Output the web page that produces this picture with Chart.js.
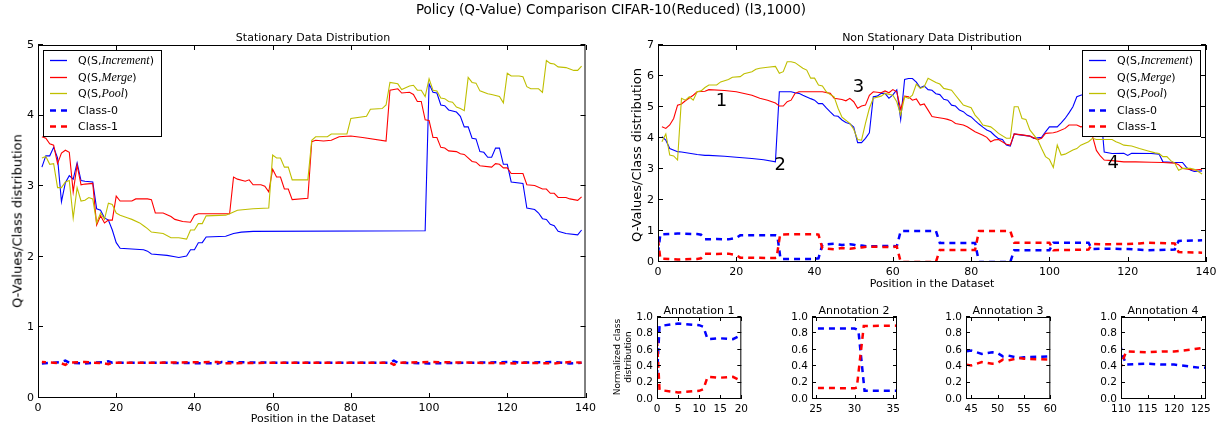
<!DOCTYPE html>
<html>
<head>
<meta charset="utf-8">
<script src="https://cdn.jsdelivr.net/npm/chart.js@4.4.0/dist/chart.umd.min.js"></script>
<style>
  body { margin: 0; background: #fff; }
  #wrap { position: relative; width: 1222px; height: 432px; overflow: hidden; font-family: 'DejaVu Sans', sans-serif; color: #000; background: #fff; }
  canvas { position: absolute; }
  .lbl { position: absolute; white-space: nowrap; transform: translate(-50%, -50%); line-height: 1; }
  .rot { transform: translate(-50%, -50%) rotate(-90deg); }
</style>
</head>
<body>
<div id="wrap">
  <canvas id="statChart"></canvas>
  <canvas id="nonStatChart"></canvas>
  <canvas id="ann1"></canvas>
  <canvas id="ann2"></canvas>
  <canvas id="ann3"></canvas>
  <canvas id="ann4"></canvas>

  <div class="lbl" style="left:611px;top:10px;font-size:13.5px">Policy (Q-Value) Comparison CIFAR-10(Reduced) (l3,1000)</div>
  <div class="lbl" style="left:313px;top:37px;font-size:11px">Stationary Data Distribution</div>
  <div class="lbl" style="left:932px;top:37px;font-size:11px">Non Stationary Data Distribution</div>
  <div class="lbl" style="left:313px;top:418px;font-size:11px">Position in the Dataset</div>
  <div class="lbl" style="left:932px;top:283px;font-size:11px">Position in the Dataset</div>
  <div class="lbl rot" style="left:17px;top:221px;font-size:13px">Q-Values/Class distribution</div>
  <div class="lbl rot" style="left:636px;top:155px;font-size:13px">Q-Values/Class distribution</div>
  <div class="lbl" style="left:699px;top:310px;font-size:11px">Annotation 1</div>
  <div class="lbl" style="left:854px;top:310px;font-size:11px">Annotation 2</div>
  <div class="lbl" style="left:1008px;top:310px;font-size:11px">Annotation 3</div>
  <div class="lbl" style="left:1163px;top:310px;font-size:11px">Annotation 4</div>
  <div class="lbl rot" style="left:623px;top:357px;font-size:9px;line-height:11px;text-align:center">Normalized class<br>distribution</div>
</div>

<script>
// ---- tick labels ----
const xTicksMain = [0, 20, 40, 60, 80, 100, 120, 140];
const yTicksStat = [0, 1, 2, 3, 4, 5];
const yTicksNonStat = [0, 1, 2, 3, 4, 5, 6, 7];
const yTicksAnn = [0, 0.2, 0.4, 0.6, 0.8, 1.0];
const xTicksAnn1 = [0, 5, 10, 15, 20];
const xTicksAnn2 = [25, 30, 35];
const xTicksAnn3 = [45, 50, 55, 60];
const xTicksAnn4 = [110, 115, 120, 125];

// ---- stationary data distribution: [position, value] ----
const statIncrement = [[1,3.27],[2,3.43],[3,3.43],[4,3.55],[5,3.40],[6,2.78],[7,3.05],[8,3.15],[9,3.10],[10,3.33],[11,3.08],[12,3.07],[14,3.06],[15,2.68],[16,2.66],[17,2.55],[18,2.52],[19,2.38],[20,2.20],[21,2.12],[27,2.10],[28,2.08],[29,2.04],[33,2.02],[35,2.00],[36,1.99],[37,2.00],[38,2.01],[39,2.10],[40,2.10],[41,2.20],[42,2.20],[43,2.28],[48,2.29],[50,2.33],[52,2.35],[55,2.36],[99,2.37],[100,4.45],[101,4.33],[102,4.32],[103,4.15],[104,4.14],[105,4.08],[107,4.05],[108,3.99],[109,3.84],[110,3.84],[111,3.68],[112,3.67],[113,3.49],[114,3.48],[115,3.41],[116,3.41],[117,3.54],[118,3.54],[119,3.31],[120,3.31],[121,3.06],[124,3.04],[125,2.69],[127,2.67],[128,2.62],[129,2.54],[130,2.53],[131,2.46],[132,2.44],[133,2.36],[135,2.33],[138,2.31],[139,2.38]];
const statMerge = [[1,3.70],[2,3.68],[3,3.60],[4,3.58],[5,3.32],[6,3.47],[7,3.51],[8,3.48],[9,2.92],[10,3.30],[11,3.02],[12,3.03],[14,3.04],[15,2.45],[16,2.58],[17,2.48],[18,2.52],[19,2.52],[20,2.86],[21,2.79],[24,2.79],[25,2.82],[28,2.82],[29,2.81],[30,2.62],[32,2.62],[34,2.57],[35,2.53],[37,2.50],[39,2.49],[40,2.59],[41,2.61],[49,2.61],[50,3.13],[51,3.10],[53,3.07],[54,3.09],[55,3.02],[57,3.02],[58,3.00],[59,2.92],[60,3.24],[61,3.13],[62,3.13],[63,2.96],[64,2.96],[65,2.81],[69,2.83],[70,3.63],[71,3.65],[73,3.64],[75,3.65],[77,3.70],[80,3.71],[83,3.69],[89,3.64],[90,4.36],[92,4.38],[93,4.32],[95,4.33],[96,4.30],[97,4.20],[98,4.20],[99,3.94],[100,3.93],[101,3.69],[102,3.69],[103,3.55],[104,3.54],[105,3.50],[107,3.49],[108,3.46],[109,3.45],[111,3.35],[112,3.34],[113,3.29],[116,3.27],[117,3.32],[118,3.31],[119,3.26],[120,3.26],[121,3.18],[124,3.18],[125,3.02],[127,3.01],[129,2.96],[130,2.96],[131,2.90],[132,2.90],[133,2.84],[135,2.84],[136,2.82],[138,2.80],[139,2.85]];
const statPool = [[1,3.40],[2,3.42],[3,3.31],[4,3.32],[5,2.98],[6,2.98],[7,3.06],[8,3.08],[9,2.55],[10,2.98],[11,2.79],[12,2.80],[13,2.84],[14,2.82],[15,2.48],[16,2.62],[17,2.53],[18,2.76],[19,2.74],[20,2.62],[21,2.59],[23,2.55],[24,2.53],[26,2.48],[27,2.44],[28,2.40],[29,2.35],[32,2.33],[34,2.27],[36,2.27],[38,2.25],[39,2.38],[40,2.38],[41,2.47],[42,2.47],[43,2.58],[48,2.59],[49,2.61],[51,2.66],[55,2.68],[59,2.69],[60,3.44],[61,3.40],[62,3.40],[63,3.27],[64,3.27],[65,3.09],[69,3.09],[70,3.65],[71,3.70],[74,3.70],[75,3.74],[79,3.74],[80,3.96],[84,3.99],[85,4.09],[88,4.10],[89,4.15],[90,4.47],[92,4.45],[93,4.37],[95,4.42],[96,4.43],[97,4.36],[98,4.36],[99,4.27],[100,4.52],[101,4.36],[102,4.35],[103,4.25],[104,4.24],[105,4.20],[106,4.19],[107,4.12],[108,4.10],[109,4.07],[110,4.54],[111,4.47],[112,4.46],[113,4.35],[115,4.31],[116,4.30],[118,4.27],[119,4.18],[120,4.60],[121,4.56],[123,4.56],[124,4.55],[125,4.41],[126,4.38],[128,4.38],[129,4.33],[130,4.78],[131,4.74],[132,4.73],[133,4.69],[135,4.68],[136,4.66],[137,4.64],[138,4.64],[139,4.70]];
const statClass0 = [[1,0.49],[4,0.50],[6,0.51],[7,0.53],[8,0.50],[12,0.49],[17,0.51],[18,0.52],[19,0.50],[30,0.50],[46,0.49],[47,0.51],[60,0.50],[90,0.50],[91,0.53],[92,0.50],[100,0.49],[122,0.51],[123,0.50],[132,0.51],[136,0.49],[139,0.50]];
const statClass1 = [[1,0.51],[4,0.50],[6,0.49],[7,0.47],[8,0.50],[12,0.51],[17,0.49],[18,0.48],[19,0.50],[30,0.50],[46,0.51],[47,0.49],[60,0.50],[90,0.50],[91,0.47],[92,0.50],[100,0.51],[122,0.49],[123,0.50],[132,0.49],[136,0.51],[139,0.50]];

// ---- non stationary data distribution ----
const nsIncrement = [[1,4.04],[2,3.93],[3,3.66],[5,3.56],[6,3.55],[8,3.51],[10,3.47],[12,3.44],[13,3.44],[17,3.41],[20,3.38],[24,3.34],[27,3.30],[30,3.23],[31,5.49],[34,5.49],[35,5.46],[36,5.44],[37,5.38],[39,5.27],[40,5.22],[41,5.11],[42,5.11],[43,4.97],[44,4.84],[45,4.72],[46,4.70],[47,4.58],[48,4.50],[49,4.46],[50,4.35],[51,3.85],[52,3.85],[53,3.99],[54,4.17],[55,5.33],[56,5.35],[57,5.44],[58,5.44],[59,5.28],[60,5.39],[61,5.55],[62,4.60],[63,5.89],[64,5.92],[65,5.92],[66,5.80],[67,5.62],[68,5.68],[69,5.56],[70,5.54],[71,5.43],[72,5.40],[73,5.25],[74,5.22],[75,5.06],[76,5.03],[77,4.90],[78,4.85],[79,4.74],[80,4.68],[81,4.56],[82,4.45],[83,4.35],[84,4.26],[85,4.20],[86,4.08],[87,3.98],[88,3.95],[89,3.77],[90,3.74],[91,4.13],[92,4.11],[95,4.06],[96,3.99],[98,4.02],[99,4.20],[100,4.36],[102,4.36],[103,4.49],[104,4.63],[105,4.81],[106,5.01],[107,5.33],[108,5.38],[110,5.45],[112,5.45],[113,5.00],[114,3.55],[116,3.50],[119,3.51],[120,3.44],[121,3.51],[126,3.50],[128,3.48],[129,3.23],[132,3.21],[134,3.21],[135,3.05],[136,2.97],[137,2.92],[139,2.94]];
const nsMerge = [[1,4.36],[2,4.31],[3,4.42],[4,4.63],[5,5.06],[6,5.10],[7,5.20],[9,5.38],[10,5.49],[12,5.51],[13,5.56],[17,5.53],[20,5.49],[24,5.38],[26,5.28],[28,5.22],[30,5.13],[31,5.03],[32,5.03],[33,5.17],[34,5.22],[35,5.44],[36,5.49],[42,5.49],[44,5.44],[45,5.28],[47,5.24],[48,5.20],[49,5.28],[50,5.17],[51,4.96],[52,5.03],[53,5.06],[54,5.38],[55,5.49],[57,5.46],[58,5.52],[59,5.46],[60,5.56],[61,5.49],[62,4.92],[63,5.35],[64,5.33],[65,5.22],[66,5.26],[67,5.06],[68,5.10],[69,4.90],[70,4.69],[71,4.67],[73,4.63],[74,4.60],[75,4.56],[76,4.47],[78,4.42],[79,4.36],[80,4.28],[81,4.20],[83,4.09],[84,4.02],[85,3.88],[86,3.94],[87,3.95],[89,3.80],[90,3.77],[91,4.13],[93,4.10],[95,4.06],[97,3.95],[98,3.99],[99,4.15],[101,4.17],[102,4.20],[104,4.31],[105,4.42],[107,4.42],[108,4.36],[110,4.40],[111,4.06],[112,3.60],[113,3.42],[114,3.29],[116,3.27],[119,3.23],[122,3.23],[126,3.22],[129,3.21],[132,3.19],[133,3.14],[134,3.02],[137,2.97],[139,2.99]];
const nsPool = [[1,3.88],[2,4.13],[3,3.45],[4,3.42],[5,3.29],[6,5.28],[7,5.22],[8,5.33],[9,5.22],[10,5.49],[11,5.52],[12,5.63],[13,5.71],[15,5.71],[16,5.81],[18,5.89],[19,5.96],[21,5.98],[22,6.07],[24,6.14],[25,6.22],[26,6.25],[28,6.28],[30,6.31],[31,6.09],[32,6.14],[33,6.46],[34,6.46],[35,6.43],[37,6.25],[38,6.19],[39,5.93],[40,5.93],[41,5.71],[42,5.68],[43,5.49],[44,5.40],[45,5.33],[46,4.96],[47,4.67],[49,4.47],[50,4.28],[51,3.95],[52,3.93],[53,4.47],[54,4.96],[55,5.28],[57,5.35],[58,5.44],[60,5.38],[61,5.17],[62,4.74],[63,5.33],[64,5.28],[65,5.38],[66,5.74],[67,5.60],[68,5.65],[69,5.93],[71,5.79],[72,5.74],[73,5.60],[75,5.54],[76,5.38],[77,5.22],[78,5.06],[80,4.98],[81,4.74],[82,4.60],[83,4.42],[85,4.36],[86,4.26],[87,4.15],[89,3.99],[90,3.99],[91,5.01],[92,5.01],[93,4.63],[94,4.60],[95,4.26],[97,3.94],[98,3.66],[99,3.40],[100,3.31],[101,3.05],[102,3.77],[103,3.45],[104,3.48],[106,3.61],[107,3.66],[108,3.77],[110,3.88],[111,3.99],[112,3.95],[116,3.95],[117,3.88],[118,3.83],[119,3.77],[121,3.74],[123,3.66],[125,3.59],[127,3.52],[128,3.50],[129,3.40],[130,3.40],[131,3.27],[132,3.19],[133,2.96],[134,3.02],[136,3.02],[137,2.99],[138,2.92],[139,2.84]];
const nsClass0 = [[0,0.28],[0.6,0.89],[5,0.92],[10,0.90],[11,0.88],[12,0.73],[15,0.74],[18,0.73],[20,0.78],[21,0.86],[30,0.86],[30.5,0.84],[31.3,0.10],[40,0.10],[41,0.12],[42,0.56],[45,0.59],[47,0.55],[49,0.57],[50,0.56],[51,0.52],[52,0.53],[54,0.50],[55,0.51],[60,0.52],[61,0.50],[62,1.0],[71,1.0],[72,0.61],[81,0.61],[82,0.0],[90,0.0],[91,0.38],[100,0.38],[101,0.62],[110,0.62],[110.5,0.50],[111,0.42],[115,0.43],[118,0.42],[120,0.42],[125,0.38],[132,0.40],[133,0.68],[139,0.70]];
const nsClass1 = [[0,0.72],[0.6,0.11],[5,0.08],[10,0.10],[11,0.12],[12,0.27],[15,0.26],[18,0.27],[20,0.22],[21,0.14],[30,0.13],[30.3,0.14],[31.2,0.89],[40,0.90],[41,0.88],[42,0.44],[45,0.41],[47,0.45],[49,0.43],[50,0.44],[51,0.48],[52,0.47],[54,0.50],[55,0.49],[60,0.48],[61,0.50],[62,0.0],[71,0.0],[72,0.39],[81,0.39],[82,1.0],[90,1.0],[91,0.62],[100,0.62],[101,0.38],[110,0.40],[110.5,0.50],[111,0.58],[115,0.57],[118,0.58],[120,0.58],[123,0.60],[125,0.62],[132,0.60],[133,0.32],[139,0.30]];

// numbered annotations on the non stationary plot
const annotLabels = ['1', '2', '3', '4'];
const annotX = [16.2, 31.2, 51.2, 116.3];
const annotY = [5.17, 3.12, 5.65, 3.18];

const BLUE = '#0000ff', RED = '#ff0000', YELLOW = '#bfbf00';

// Q(S, <italic name>) legend text
function qParts(name) {
    return [{ text: 'Q(S,' }, { text: name, math: true }, { text: ')' }];
}

function line(points, color, dashed, parts, idx, dashOffset) {
    return {
        label: parts.map(p => p.text).join(''),
        legendParts: parts,
        data: points.map(p => ({ x: p[0], y: p[1] })),
        borderColor: color,
        borderWidth: dashed ? 2.5 : 1.1,
        borderDash: dashed ? [6, 5] : [],
        borderDashOffset: dashOffset || 0,
        pointRadius: 0,
        fill: false,
        tension: 0,
        clip: 0,
        order: -idx
    };
}

// legend box drawn like the matplotlib one
const legendBox = {
    id: 'legendBox',
    afterDatasetsDraw(chart, args, opts) {
        if (!opts.side) return;
        const ctx = chart.ctx, a = chart.chartArea;
        const w = 118, h = 86;
        const x0 = opts.side === 'left' ? Math.round(a.left) + 5 : Math.round(a.right) - 6 - w;
        const y0 = Math.round(a.top) + 5;
        ctx.save();
        ctx.fillStyle = '#fff';
        ctx.fillRect(x0, y0, w, h);
        ctx.strokeStyle = '#000';
        ctx.lineWidth = 1;
        ctx.strokeRect(x0 + 0.5, y0 + 0.5, w, h);
        chart.data.datasets.forEach((ds, i) => {
            const y = Math.round(y0 + 10 + i * 16.6);
            ctx.beginPath();
            ctx.strokeStyle = ds.borderColor;
            ctx.lineWidth = ds.borderWidth === 2.5 ? 2.5 : 1.3;
            ctx.setLineDash(ds.borderDash);
            ctx.moveTo(x0 + 7, y + 0.5);
            ctx.lineTo(x0 + 24, y + 0.5);
            ctx.stroke();
            ctx.setLineDash([]);
            let tx = x0 + 35;
            ctx.fillStyle = '#000';
            ctx.textBaseline = 'middle';
            ctx.textAlign = 'left';
            ds.legendParts.forEach(p => {
                ctx.font = p.math ? 'italic 12px "Liberation Serif"' : '11px "DejaVu Sans"';
                ctx.fillText(p.text, tx, y + 1);
                tx += ctx.measureText(p.text).width;
            });
        });
        ctx.restore();
    }
};

// big numbers placed in data coordinates
const markers = {
    id: 'markers',
    afterDatasetsDraw(chart, args, opts) {
        if (!opts.items || !opts.items.length) return;
        const ctx = chart.ctx;
        ctx.save();
        ctx.fillStyle = '#000';
        ctx.font = '18px "DejaVu Sans"';
        ctx.textAlign = 'center';
        ctx.textBaseline = 'middle';
        opts.items.forEach(m => {
            ctx.fillText(m.text, chart.scales.x.getPixelForValue(m.x), chart.scales.y.getPixelForValue(m.y));
        });
        ctx.restore();
    }
};

// axes box with inward ticks on all four sides
const frame = {
    id: 'frame',
    afterDraw(chart, args, opts) {
        const ctx = chart.ctx, a = chart.chartArea, len = opts.len || 5;
        const xs = chart.scales.x, ys = chart.scales.y;
        ctx.save();
        ctx.strokeStyle = '#000';
        ctx.lineWidth = 1;
        ctx.beginPath();
        xs.ticks.forEach(t => {
            const p = Math.round(xs.getPixelForValue(t.value)) + 0.5;
            ctx.moveTo(p, a.bottom); ctx.lineTo(p, a.bottom - len);
            ctx.moveTo(p, a.top); ctx.lineTo(p, a.top + len);
        });
        ys.ticks.forEach(t => {
            const p = Math.round(ys.getPixelForValue(t.value)) - 0.5;
            ctx.moveTo(a.left, p); ctx.lineTo(a.left + len, p);
            ctx.moveTo(a.right, p); ctx.lineTo(a.right - len, p);
        });
        ctx.stroke();
        ctx.strokeRect(a.left + 0.5, a.top + 0.5, a.right - a.left - 1, a.bottom - a.top - 1);
        ctx.restore();
    }
};

function axisOpts(min, max, ticks, size, fmt, thick, dir, pad) {
    return {
        type: 'linear',
        min: min,
        max: max,
        grid: { display: false, drawTicks: false },
        border: { display: false },
        ticks: {
            autoSkip: false,
            maxRotation: 0,
            padding: pad,
            color: '#000',
            font: { family: 'DejaVu Sans', size: size },
            callback: v => fmt(v)
        },
        afterBuildTicks: s => { s.ticks = ticks.map(v => ({ value: v })); },
        afterFit: s => { if (dir === 'x') s.height = thick; else s.width = thick; }
    };
}

function makeChart(id, box, pad, conf) {
    const cv = document.getElementById(id);
    cv.width = box.right - box.left + pad.l + pad.r;
    cv.height = box.bottom - box.top + pad.t + pad.b;
    cv.style.left = (box.left - pad.l) + 'px';
    cv.style.top = (box.top - pad.t) + 'px';
    return new Chart(cv, {
        type: 'line',
        data: { datasets: conf.datasets },
        options: {
            responsive: false,
            animation: false,
            devicePixelRatio: 1,
            layout: { padding: { top: pad.t, right: pad.r, left: 0, bottom: 0 } },
            plugins: {
                legend: { display: false },
                tooltip: { enabled: false },
                legendBox: { side: conf.legendSide },
                markers: { items: conf.markers || [] },
                frame: { len: conf.tickLen }
            },
            scales: {
                x: axisOpts(conf.xMin, conf.xMax, conf.xTicks, conf.fontSize, v => String(v), pad.b, 'x', 4),
                y: axisOpts(conf.yMin, conf.yMax, conf.yTicks, conf.fontSize, conf.yFmt, pad.l, 'y', 4)
            }
        },
        plugins: [legendBox, markers, frame]
    });
}

function mainSets(inc, merge, pool, c0, c1, c1Offset) {
    return [
        line(inc, BLUE, false, qParts('Increment'), 0),
        line(merge, RED, false, qParts('Merge'), 1),
        line(pool, YELLOW, false, qParts('Pool'), 2),
        line(c0, BLUE, true, [{ text: 'Class-0' }], 3),
        line(c1, RED, true, [{ text: 'Class-1' }], 4, c1Offset)
    ];
}

makeChart('statChart', { left: 38, top: 45, right: 588, bottom: 398 }, { l: 38, t: 45, r: 12, b: 34 }, {
    datasets: mainSets(statIncrement, statMerge, statPool, statClass0, statClass1, 2),
    legendSide: 'left',
    xMin: 0, xMax: 140, xTicks: xTicksMain,
    yMin: 0, yMax: 5, yTicks: yTicksStat, yFmt: v => String(v),
    fontSize: 11, tickLen: 5
});

makeChart('nonStatChart', { left: 658, top: 45, right: 1206, bottom: 262 }, { l: 48, t: 45, r: 16, b: 30 }, {
    datasets: mainSets(nsIncrement, nsMerge, nsPool, nsClass0, nsClass1, 0),
    legendSide: 'right',
    markers: annotLabels.map((t, i) => ({ text: t, x: annotX[i], y: annotY[i] })),
    xMin: 0, xMax: 140, xTicks: xTicksMain,
    yMin: 0, yMax: 7, yTicks: yTicksNonStat, yFmt: v => String(v),
    fontSize: 11, tickLen: 5
});

const annSpecs = [
    { id: 'ann1', left: 657, xMin: 0, xMax: 20, xTicks: xTicksAnn1 },
    { id: 'ann2', left: 812, xMin: 24.5, xMax: 35.5, xTicks: xTicksAnn2 },
    { id: 'ann3', left: 966, xMin: 44, xMax: 60, xTicks: xTicksAnn3 },
    { id: 'ann4', left: 1121, xMin: 110, xMax: 126, xTicks: xTicksAnn4 }
];
annSpecs.forEach(s => {
    makeChart(s.id, { left: s.left, top: 317, right: s.left + 85, bottom: 399 }, { l: 30, t: 12, r: 10, b: 20 }, {
        datasets: [
            line(nsClass0, BLUE, true, [{ text: 'Class-0' }], 0),
            line(nsClass1, RED, true, [{ text: 'Class-1' }], 1)
        ],
        xMin: s.xMin, xMax: s.xMax, xTicks: s.xTicks,
        yMin: 0, yMax: 1, yTicks: yTicksAnn, yFmt: v => v.toFixed(1),
        fontSize: 10.5, tickLen: 4
    });
});
</script>
</body>
</html>
